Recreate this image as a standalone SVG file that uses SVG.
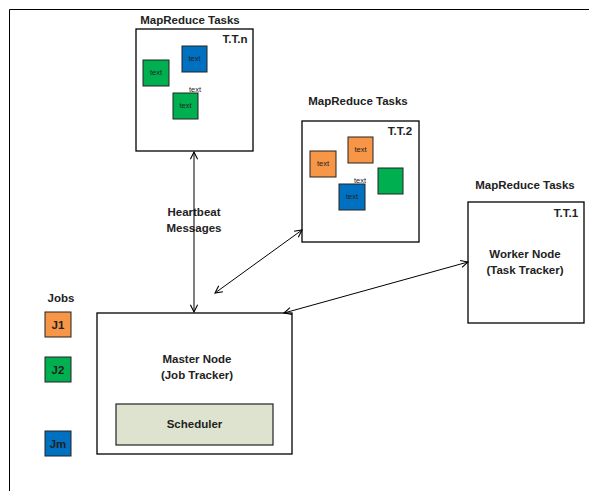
<svg xmlns="http://www.w3.org/2000/svg" width="589" height="491" viewBox="0 0 589 491">
<defs>
<style>
.box{fill:#fff;stroke:#000;stroke-width:1.3}
.t{font-family:"Liberation Sans",Arial,sans-serif;font-weight:bold;font-size:11.5px;fill:#222;text-anchor:middle}
.s{font-family:"Liberation Sans",Arial,sans-serif;font-size:7.5px;fill:#222;text-anchor:middle}
.or{fill:#f79646;stroke:#222;stroke-width:1}
.gr{fill:#00b050;stroke:#222;stroke-width:1}
.bl{fill:#0070c0;stroke:#222;stroke-width:1}
.ln{stroke:#000;stroke-width:1;fill:none}
</style>
<marker id="ah" viewBox="0 0 10 10" refX="9" refY="5" markerWidth="9" markerHeight="9" orient="auto-start-reverse" markerUnits="userSpaceOnUse">
<path d="M1,1 L9,5 L1,9" fill="none" stroke="#000" stroke-width="1.2"/>
</marker>
</defs>
<rect width="589" height="491" fill="#fff"/>
<g id="frame">
<path d="M9.5,491 V9.5 H589" class="ln"/>
</g>
<g id="ttn">
<text class="t" x="190" y="24">MapReduce Tasks</text>
<rect class="box" x="136" y="29" width="117" height="122"/>
<text class="t" x="235" y="43">T.T.n</text>
<rect class="gr" x="143" y="60" width="26" height="26"/>
<text class="s" x="156" y="75">text</text>
<rect class="bl" x="182" y="46" width="25" height="26"/>
<text class="s" x="194.5" y="61">text</text>
<text class="s" x="195" y="92">text</text>
<rect class="gr" x="173" y="93" width="25" height="26"/>
<text class="s" x="185.5" y="108">text</text>
</g>
<g id="tt2">
<text class="t" x="358" y="105">MapReduce Tasks</text>
<rect class="box" x="302" y="121" width="117" height="121"/>
<text class="t" x="400" y="135">T.T.2</text>
<rect class="or" x="310" y="151" width="26" height="26"/>
<text class="s" x="323" y="166">text</text>
<rect class="or" x="348" y="137" width="25" height="26"/>
<text class="s" x="360.5" y="152">text</text>
<rect class="gr" x="378" y="168" width="25" height="26"/>
<text class="s" x="360" y="183">text</text>
<rect class="bl" x="339" y="184" width="26" height="26"/>
<text class="s" x="352" y="199">text</text>
</g>
<g id="tt1">
<text class="t" x="525" y="189">MapReduce Tasks</text>
<rect class="box" x="468" y="202" width="116" height="121"/>
<text class="t" x="566" y="217">T.T.1</text>
<text class="t" x="525" y="258">Worker Node</text>
<text class="t" x="525" y="274">(Task Tracker)</text>
</g>
<g id="master">
<rect class="box" x="97" y="313" width="195" height="141"/>
<text class="t" x="197" y="363">Master Node</text>
<text class="t" x="197" y="379">(Job Tracker)</text>
</g>
<g id="scheduler">
<rect x="116" y="404" width="157" height="41" fill="#dde3cf" stroke="#222" stroke-width="1.2"/>
<text class="t" x="194.5" y="428">Scheduler</text>
</g>
<g id="jobs">
<text class="t" x="61" y="302">Jobs</text>
<rect class="or" x="45" y="312" width="26" height="25"/>
<text class="t" x="58" y="328.5">J1</text>
<rect class="gr" x="45" y="357" width="26" height="25"/>
<text class="t" x="58" y="373.5">J2</text>
<rect class="bl" x="45" y="431" width="26" height="25"/>
<text class="t" x="58" y="447.5">Jm</text>
</g>
<g id="heartbeat">
<text class="t" x="194" y="216">Heartbeat</text>
<text class="t" x="194" y="232">Messages</text>
</g>
<g id="connectors">
<line class="ln" x1="194" y1="152" x2="194" y2="312" marker-start="url(#ah)" marker-end="url(#ah)"/>
<line class="ln" x1="215" y1="293" x2="302" y2="230" marker-start="url(#ah)" marker-end="url(#ah)"/>
<line class="ln" x1="284" y1="313" x2="468" y2="262" marker-start="url(#ah)" marker-end="url(#ah)"/>
</g>
</svg>
